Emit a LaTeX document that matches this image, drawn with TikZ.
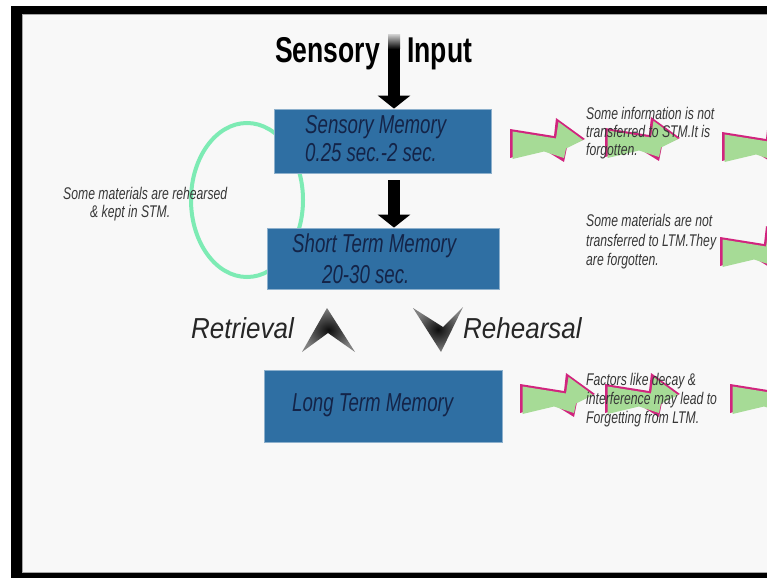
\documentclass[tikz,border=0pt]{standalone}
\usepackage{fontspec}
\setmainfont{Liberation Sans}
\newfontfamily\narrowfont{Liberation Sans}[FakeStretch=0.72]
\newfontfamily\labelfont{Liberation Sans}[FakeStretch=0.9]
\newfontfamily\headfont{Liberation Sans}[FakeStretch=0.74]
\usetikzlibrary{arrows.meta, positioning}

\definecolor{boxblueA}{RGB}{47, 111, 163}
\definecolor{inkA}{RGB}{20, 36, 72}
\definecolor{noteA}{RGB}{55, 55, 55}
\definecolor{ringA}{RGB}{125, 235, 180}
\definecolor{boltgreenA}{RGB}{166, 219, 150}
\definecolor{boltpinkA}{RGB}{209, 36, 126}
\definecolor{paperA}{RGB}{248, 248, 248}

\tikzset{
  membox/.style={draw=boxblueA!55!white, line width=0.8pt, fill=boxblueA, inner sep=0},
  memtext/.style={inner sep=0, anchor=base west, text=inkA,
    font=\narrowfont\itshape\fontsize{26}{28}\selectfont},
  notetext/.style={inner sep=0, anchor=base west, text=noteA,
    font=\narrowfont\itshape\fontsize{17}{18}\selectfont},
  flowtext/.style={inner sep=0, anchor=base west, text=black!85,
    font=\labelfont\itshape\fontsize{29}{30}\selectfont},
  headtext/.style={inner sep=0, anchor=base west,
    font=\headfont\bfseries\fontsize{36}{38}\selectfont},
  bigarrow/.style={line width=12bp, -{Triangle[width=32bp,length=13bp]}}
}

% lightning arrow, left middle at #1
\newcommand\boltA[1]{%
  \begin{scope}[shift={(#1)}]
    \fill[boltpinkA] (0,-14) -- (44,-7) -- (46,-25) -- (75,-4) -- (57,4) -- (54,19) -- (33,6) -- (0,15) -- cycle;
    \fill[boltgreenA] (2.5,-11.5) -- (46,-4.5) -- (48.5,-21) -- (73,-3) -- (56,5.5) -- (54,15) -- (34,8.5) -- (2.5,16) -- cycle;
  \end{scope}}

\begin{document}
\begin{tikzpicture}[x=1bp, y=-1bp]

\useasboundingbox (0,0) rectangle (767,578);
\fill[white] (0,0) rectangle (790,578);

%%% FRAME
\fill[paperA] (22,14) rectangle (790,573);
\fill[black] (11,6) rectangle (790,14);
\fill[black] (11,6) rectangle (22,578);
\fill[black] (11,573) rectangle (790,578);
\draw[gray!70, line width=1bp] (22.5,14.5) -- (790,14.5);
\draw[gray!70, line width=1bp] (22.5,14.5) -- (22.5,572.5) -- (790,572.5);

%%% REHEARSAL LOOP
\draw[ringA, line width=4bp] (247,200) ellipse (56bp and 77bp);

%%% BOXES
\node[membox, minimum width=217bp, minimum height=64bp] (sm) at (382.5,141) {};
\node[membox, minimum width=232bp, minimum height=61bp] (stm) at (383,258.5) {};
\node[membox, minimum width=238bp, minimum height=72bp] (ltm) at (383,406) {};

\node[memtext] (smA) at (305,134) {Sensory Memory};
\node[memtext] (smB) at (305,162) {0.25 sec.-2 sec.};
\node[memtext] (stmA) at (292,252) {Short Term Memory};
\node[memtext] (stmB) at (322,283) {20-30 sec.};
\node[memtext] (ltmA) at (292,411) {Long Term Memory};

%%% INPUT
\node[headtext] (sensory) at (275,63) {Sensory};
\node[headtext] (input) at (407,63) {Input};

\coordinate (inTop) at (394,48);
\draw[bigarrow] (inTop) -- (inTop |- sm.north);
\shade[top color=gray!45, bottom color=black] (388,35) rectangle (400,49);
\draw[bigarrow] ([yshift=-7bp]sm.south -| inTop) -- (inTop |- stm.north);

%%% RETRIEVAL / REHEARSAL
\shade[inner color=black!95, outer color=black!50] (327,308) -- (355,352) -- (328,333) -- (302,352) -- cycle;
\shade[inner color=black!95, outer color=black!50] (413,308) -- (443,327) -- (463,307) -- (441,352) -- cycle;

\node[flowtext] (retr) at (191,338) {Retrieval};
\node[flowtext] (reh) at (463,338) {Rehearsal};

%%% NOTES
\node[notetext] (loopA) at (63,200) {Some materials are rehearsed};
\node[notetext] (loopB) at (90,218) {\& kept in STM.};

\begin{scope}
\clip (22,14) rectangle (790,573);
\boltA{510,143}
\boltA{605,142}
\boltA{722,146}
\boltA{720,251}
\boltA{520,398}
\boltA{605,398}
\boltA{730,398}
\end{scope}

\node[notetext] (forgetA1) at (586,120) {Some information is not};
\node[notetext] (forgetA2) at (586,138) {transferred to STM.It is};
\node[notetext] (forgetA3) at (586,156) {forgotten.};

\node[notetext] (forgetB1) at (586,227) {Some materials are not};
\node[notetext] (forgetB2) at (586,246) {transferred to LTM.They};
\node[notetext] (forgetB3) at (586,265) {are forgotten.};

\node[notetext] (forgetC1) at (586,385) {Factors like decay \&};
\node[notetext] (forgetC2) at (586,404) {interference may lead to};
\node[notetext] (forgetC3) at (586,423) {Forgetting from LTM.};

\end{tikzpicture}
\end{document}
